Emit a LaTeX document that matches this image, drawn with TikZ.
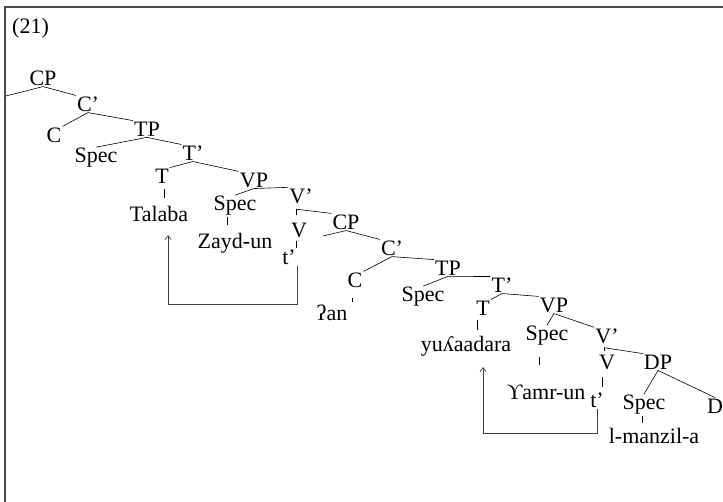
\documentclass[tikz,border=0pt]{standalone}
\usepackage{fontspec}
\setmainfont{Liberation Serif}
\usepackage{tikz}
\usetikzlibrary{arrows.meta}

\begin{document}
\begin{tikzpicture}[
  x=1pt, y=-1pt,
  >={Straight Barb[length=4pt,width=6pt]},
  every node/.style={font=\fontsize{22}{24}\selectfont, inner sep=1pt},
  branch/.style={line width=0.6pt},
  stem/.style={line width=0.6pt},
  move/.style={->, line width=0.7pt, black!75}
]
\useasboundingbox (0,0) rectangle (723,502);
% Frame: top and left rule only
\draw[line width=1.4pt, black!70] (5,502) -- (5,7) -- (723,7);
\node[anchor=west] (num) at (11,28) {(21)};

% Matrix clause
\node (cp1)    at (43,78)   {CP};
\node (cbar1)  at (88,104)  {C’};
\node (c1)     at (54,135)  {C};
\node (tp1)    at (147,129) {TP};
\node (spec1)  at (96,158)  {Spec};
\node (tbar1)  at (193,153) {T’};
\node (t1)     at (162,176) {T};
\node (talaba) at (159,214) {Talaba};
\node (vp1)    at (254,180) {VP};
\node (spec2)  at (235,206) {Spec};
\node (zayd)   at (235,243) {Zayd-un};
\node (vbar1)  at (301,196) {V’};
\node (v1)     at (299,230) {V};
\node (tr1)    at (289,257) {t’};

% Embedded clause
\node (cp2)    at (346,222) {CP};
\node (cbar2)  at (392,248) {C’};
\node (c2)     at (355,280) {C};
\node (an)     at (332,313) {ʔan};
\node (tp2)    at (448,268) {TP};
\node (spec3)  at (423,297) {Spec};
\node (tbar2)  at (502,285) {T’};
\node (t2)     at (483,308) {T};
\node (yug)    at (466,346) {yuʎaadara};
\node (vp2)    at (554,305) {VP};
\node (spec4)  at (547,336) {Spec};
\node (amr)    at (546,392) {ϒamr-un};
\node (vbar2)  at (607,336) {V’};
\node (v2)     at (607,362) {V};
\node (tr2)    at (597,400) {t’};
\node (dp)     at (658,362) {DP};
\node (spec5)  at (644,405) {Spec};
\node (d)      at (715,406) {D};
\node (manzil) at (654,436) {l-manzil-a};

% Branch points without a label
\coordinate (edge) at (6,96);
\coordinate (cp2spec) at (323,236);
\coordinate (vb1) at ([xshift=-5pt,yshift=-4.5pt]vbar1.south);
\coordinate (vb2) at ([xshift=-3pt,yshift=-3pt]vbar2.south);

% Branches
\foreach \from/\to in {cp1.south/edge, cp1.south/cbar1.north west,
    cbar1.south/c1.north east, cbar1.south/tp1.north west,
    tp1.south/spec1.north, tp1.south/tbar1.north west,
    tbar1.south/t1.north east, tbar1.south/vp1.north west,
    vp1.south/spec2.north, vp1.south/vbar1.north west,
    vb1/cp2.north west,
    cp2.south/cp2spec, cp2.south/cbar2.north west,
    cbar2.south/c2.north east, cbar2.south/tp2.north west,
    tp2.south/spec3.north, tp2.south/tbar2.north west,
    tbar2.south/t2.north east, tbar2.south/vp2.north west,
    vp2.south/spec4.north, vp2.south/vbar2.north west,
    vb2/dp.north west,
    dp.south/spec5.north, dp.south/d.north}
  \draw[branch] (\from) -- (\to);
\draw[branch, shorten >=6.7pt] (vb1) -- (vb1 |- v1.north);
\draw[branch, shorten >=2pt] (vb2) -- (vb2 |- v2.north);

% Short stems down to the words
\foreach \a/\b/\dx/\s/\e in {t1/talaba/2/4.7/7.5, spec2/zayd/-8/0/7,
    v1/tr1/-3/2/0, c2/an/-3/9.7/1.5, t2/yug/-6/3.7/5,
    spec4/amr/-8/10/18.5, v2/tr2/-5/6.7/4.6, spec5/manzil/-2/0/4.5}
{
  \path ([xshift=\dx pt]\a.south) coordinate (s);
  \draw[stem, shorten <=\s pt, shorten >=\e pt] (s) -- (s |- \b.north);
}

% Verb movement
\coordinate (low1) at (168,304);
\coordinate (mv1) at (168,235);
\draw[move] (tr1.south east) |- (low1) -- (mv1);
\coordinate (low2) at (483,433);
\coordinate (mv2) at (483,367);
\draw[move] (tr2.south) |- (low2) -- (mv2);
\end{tikzpicture}
\end{document}
